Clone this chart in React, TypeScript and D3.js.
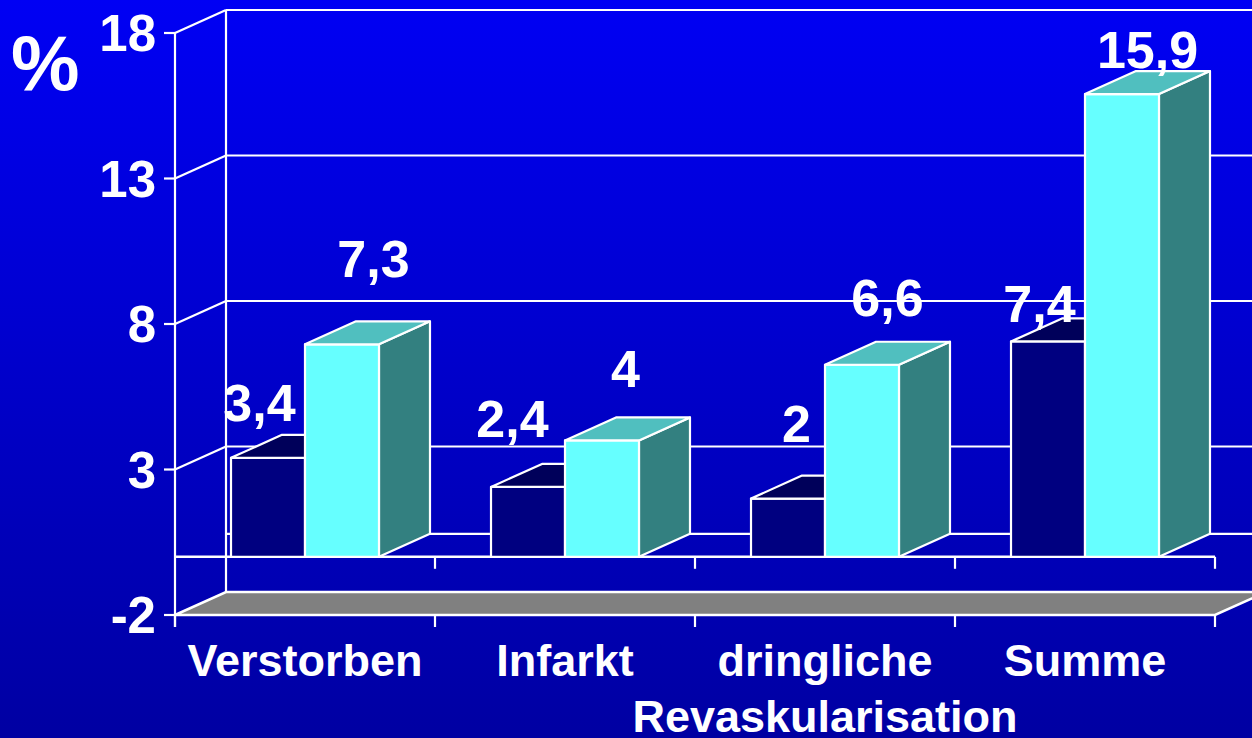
import { useEffect, useRef } from "react";
import * as d3 from "d3";

const categories = ["Verstorben", "Infarkt", "dringliche\nRevaskularisation", "Summe"];
const seriesDark = [3.4, 2.4, 2, 7.4];
const seriesLight = [7.3, 4, 6.6, 15.9];
const yTicks = [-2, 3, 8, 13, 18];

// value labels were hand placed on the slide: nudge from the top face centre
const labelNudge = [
  [[-34, -25], [6, -56]],
  [[-41, -38], [-2, -42]],
  [[-17, -45], [0, -37]],
  [[-34, -8], [0, -15]],
];

const W = 1252;
const H = 738;
const DX = 51; // 3d depth
const DY = -23;
const FONT = "'Liberation Sans', Arial, sans-serif";

const App = () => {
  const svgRef = useRef<SVGSVGElement>(null);

  useEffect(() => {
    if (!svgRef.current) return;
    const svg = d3.select(svgRef.current);
    svg.selectAll("*").remove();
    svg.attr("width", W).attr("height", H);

    const defs = svg.append("defs");
    const grad = defs
      .append("linearGradient")
      .attr("id", "bg")
      .attr("x1", 0)
      .attr("y1", 0)
      .attr("x2", 0)
      .attr("y2", 1);
    grad.append("stop").attr("offset", "0%").attr("stop-color", "#0000f4");
    grad.append("stop").attr("offset", "100%").attr("stop-color", "#0000a2");
    svg.append("rect").attr("width", W).attr("height", H).attr("fill", "url(#bg)");

    const x = d3.scaleBand().domain(categories).range([175, 1215]).padding(0);
    const inner = d3
      .scaleBand()
      .domain(["dark", "light"])
      .range([0, x.bandwidth()])
      .paddingInner(0)
      .paddingOuter(0.757);
    const y = d3.scaleLinear().domain([-2, 18]).range([615, 33]);

    const x0 = 175;
    const x1 = 1215;
    const yMin = y(-2);
    const yZero = y(0);

    const line = (g: any, a: number[], b: number[], w = 2.2) =>
      g
        .append("line")
        .attr("x1", a[0])
        .attr("y1", a[1])
        .attr("x2", b[0])
        .attr("y2", b[1])
        .attr("stroke", "#ffffff")
        .attr("stroke-width", w);

    const grid = svg.append("g");

    // back wall grid lines and the diagonals to the front axis
    yTicks
      .filter((t) => t > -2)
      .forEach((t) => {
        line(grid, [x0 + DX, y(t) + DY], [x1 + DX, y(t) + DY]);
        line(grid, [x0, y(t)], [x0 + DX, y(t) + DY]);
      });
    line(grid, [x0 + DX, yZero + DY], [x1 + DX, yZero + DY]);
    line(grid, [x0 + DX, y(18) + DY], [x0 + DX, yMin + DY]);

    // floor
    grid
      .append("polygon")
      .attr(
        "points",
        [
          [x0, yMin],
          [x1, yMin],
          [x1 + DX, yMin + DY],
          [x0 + DX, yMin + DY],
        ]
          .map((p) => p.join(","))
          .join(" ")
      )
      .attr("fill", "#808080")
      .attr("stroke", "#ffffff")
      .attr("stroke-width", 2.5);

    // front value axis with ticks
    line(grid, [x0, y(18)], [x0, yMin + 12]);
    yTicks.forEach((t) => line(grid, [x0 - 11, y(t)], [x0, y(t)]));

    // category axis at zero and at the floor, with ticks
    line(grid, [x0, yZero], [x1, yZero], 2.5);
    const edges = [...categories.map((c) => x(c) as number), x1];
    edges.forEach((e, i) => {
      if (i > 0) line(grid, [e, yZero], [e, yZero + 12]);
      line(grid, [e, yMin], [e, yMin + 12]);
    });

    // bars
    const styles: Record<string, { front: string; top: string; side: string }> = {
      dark: { front: "#000080", top: "#00005a", side: "#000060" },
      light: { front: "#66ffff", top: "#50bfbf", side: "#338080" },
    };
    const bars = svg.append("g");
    const labels = svg.append("g");
    const pts = (p: number[][]) => p.map((q) => q.join(",")).join(" ");

    categories.forEach((c, i) => {
      [
        ["dark", seriesDark[i]],
        ["light", seriesLight[i]],
      ].forEach(([key, v]: any, s) => {
        const bx = (x(c) as number) + (inner(key) as number);
        const bw = inner.bandwidth();
        const yt = y(v);
        const st = styles[key];
        const b = bars.append("g").attr("stroke", "#ffffff").attr("stroke-width", 2.2).attr("stroke-linejoin", "round");
        b.append("polygon")
          .attr("points", pts([[bx + bw, yt], [bx + bw + DX, yt + DY], [bx + bw + DX, yZero + DY], [bx + bw, yZero]]))
          .attr("fill", st.side);
        b.append("rect")
          .attr("x", bx)
          .attr("y", yt)
          .attr("width", bw)
          .attr("height", yZero - yt)
          .attr("fill", st.front);
        b.append("polygon")
          .attr("points", pts([[bx, yt], [bx + bw, yt], [bx + bw + DX, yt + DY], [bx + DX, yt + DY]]))
          .attr("fill", st.top);

        const [nx, ny] = labelNudge[i][s];
        labels
          .append("text")
          .attr("x", bx + bw / 2 + DX / 2 + nx)
          .attr("y", yt + DY / 2 + ny)
          .attr("text-anchor", "middle")
          .attr("fill", "#ffffff")
          .style("font", `bold 52px ${FONT}`)
          .text(String(v).replace(".", ","));
      });
    });

    // y tick labels
    svg
      .append("g")
      .selectAll("text")
      .data(yTicks)
      .join("text")
      .attr("x", 156)
      .attr("y", (d) => y(d) + 18)
      .attr("text-anchor", "end")
      .attr("fill", "#ffffff")
      .style("font", `bold 51px ${FONT}`)
      .text((d) => d);

    svg
      .append("text")
      .attr("x", 11)
      .attr("y", 90)
      .attr("fill", "#ffffff")
      .style("font", `bold 77px ${FONT}`)
      .text("%");

    // category labels
    const cat = svg
      .append("g")
      .selectAll("text")
      .data(categories)
      .join("text")
      .attr("text-anchor", "middle")
      .attr("fill", "#ffffff")
      .style("font", `bold 45px ${FONT}`);
    cat.each(function (d) {
      const t = d3.select(this);
      const cx = (x(d) as number) + x.bandwidth() / 2;
      d.split("\n").forEach((ln, k) => {
        t.append("tspan").attr("x", cx).attr("y", 676 + k * 56).text(ln);
      });
    });
  }, []);

  return (
    <>
      <style>{`body{margin:0;overflow:hidden}`}</style>
      <svg ref={svgRef} style={{ display: "block" }}></svg>
    </>
  );
};

export default App;
